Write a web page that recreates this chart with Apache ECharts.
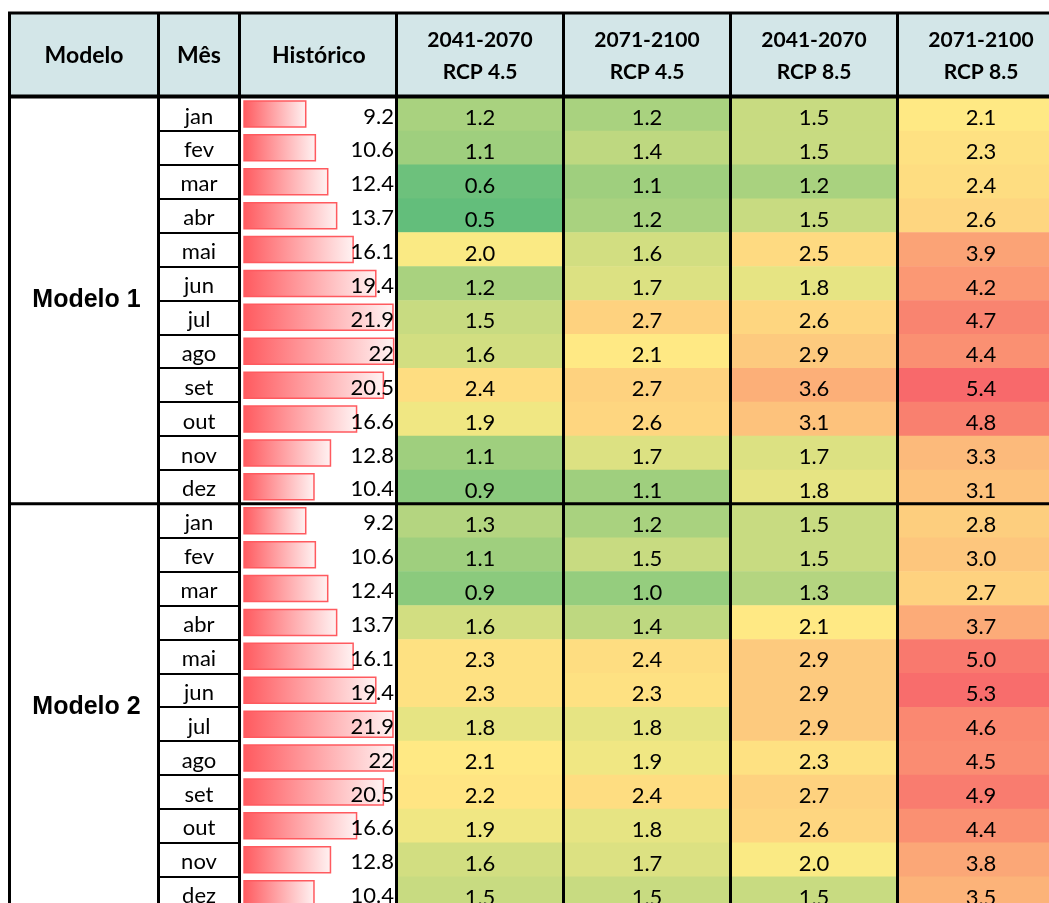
<!DOCTYPE html>
<html>
<head>
<meta charset="utf-8">
<script src="https://cdn.jsdelivr.net/npm/echarts@6/dist/echarts.min.js"></script>
<style>
  html, body { margin: 0; padding: 0; background: #fff; }
  #chart { width: 1049px; height: 903px; }
</style>
</head>
<body>
<div id="chart"></div>
<script>
// dados
const modelos = ['Modelo 1', 'Modelo 2']
const meses = ['jan', 'fev', 'mar', 'abr', 'mai', 'jun', 'jul', 'ago', 'set', 'out', 'nov', 'dez']
const cenarios = ['2041-2070\nRCP 4.5', '2071-2100\nRCP 4.5', '2041-2070\nRCP 8.5', '2071-2100\nRCP 8.5']
const cabecalho = ['Modelo', 'Mês', 'Histórico']

const historico = [9.2, 10.6, 12.4, 13.7, 16.1, 19.4, 21.9, 22, 20.5, 16.6, 12.8, 10.4]

const m1_45_2041 = [1.2, 1.1, 0.6, 0.5, 2.0, 1.2, 1.5, 1.6, 2.4, 1.9, 1.1, 0.9]
const m1_45_2071 = [1.2, 1.4, 1.1, 1.2, 1.6, 1.7, 2.7, 2.1, 2.7, 2.6, 1.7, 1.1]
const m1_85_2041 = [1.5, 1.5, 1.2, 1.5, 2.5, 1.8, 2.6, 2.9, 3.6, 3.1, 1.7, 1.8]
const m1_85_2071 = [2.1, 2.3, 2.4, 2.6, 3.9, 4.2, 4.7, 4.4, 5.4, 4.8, 3.3, 3.1]

const m2_45_2041 = [1.3, 1.1, 0.9, 1.6, 2.3, 2.3, 1.8, 2.1, 2.2, 1.9, 1.6, 1.5]
const m2_45_2071 = [1.2, 1.5, 1.0, 1.4, 2.4, 2.3, 1.8, 1.9, 2.4, 1.8, 1.7, 1.5]
const m2_85_2041 = [1.5, 1.5, 1.3, 2.1, 2.9, 2.9, 2.9, 2.3, 2.7, 2.6, 2.0, 1.5]
const m2_85_2071 = [2.8, 3.0, 2.7, 3.7, 5.0, 5.3, 4.6, 4.5, 4.9, 4.4, 3.8, 3.5]

const tabela = [
    [m1_45_2041, m1_45_2071, m1_85_2041, m1_85_2071],
    [m2_45_2041, m2_45_2071, m2_85_2041, m2_85_2071]
]

// layout
const TOPO = 13          // topo do cabeçalho
const TOPO_DADOS = 97    // início das linhas
const ALT_LINHA = 33.9
const N_LINHAS = modelos.length * meses.length
const ALT_GRID = ALT_LINHA * N_LINHAS
const COL_HEAT = 167
const bordas = [9.5, 158.5, 239.5, 396.5, 396.5 + COL_HEAT, 396.5 + 2 * COL_HEAT, 396.5 + 3 * COL_HEAT]
const FONTE = 'Lato'
const DESCE = 4   // texto das células fica um pouco abaixo do centro (como no Excel)

const linhas = []
modelos.forEach(m => meses.forEach(mm => linhas.push(m + '|' + mm)))

// dados do heatmap
const heatData = []
tabela.forEach((cols, m) => {
    cols.forEach((col, c) => {
        col.forEach((v, j) => heatData.push([c, m * 12 + j, v]))
    })
})

// escala de 3 cores tipo Excel (mín, percentil 50, máx)
const todos = heatData.map(d => d[2]).sort((a, b) => a - b)
const vMin = todos[0]
const vMax = todos[todos.length - 1]
const meio = todos.length / 2
const vMed = todos.length % 2 ? todos[Math.floor(meio)] : (todos[meio - 1] + todos[meio]) / 2

function hex2rgb(h) {
    return [parseInt(h.slice(1, 3), 16), parseInt(h.slice(3, 5), 16), parseInt(h.slice(5, 7), 16)]
}
function mistura(a, b, t) {
    const ca = hex2rgb(a), cb = hex2rgb(b)
    const c = ca.map((x, i) => Math.round(x + (cb[i] - x) * t))
    return 'rgb(' + c.join(',') + ')'
}
const VERDE = '#63BE7B', AMARELO = '#FFEB84', VERMELHO = '#F8696B'
const paradas = []
const N_PARADAS = 98
for (let i = 0; i <= N_PARADAS; i++) {
    const v = vMin + (vMax - vMin) * i / N_PARADAS
    if (v <= vMed) paradas.push(mistura(VERDE, AMARELO, (v - vMin) / (vMed - vMin)))
    else paradas.push(mistura(AMARELO, VERMELHO, (v - vMed) / (vMax - vMed)))
}

const histData = linhas.map((k, i) => historico[i % 12])

const chart = echarts.init(document.getElementById('chart'))

function gridCol(left, width) {
    return { left: left, width: width, top: TOPO_DADOS, height: ALT_GRID, outerBoundsMode: 'none' }
}
const nomeHeader = {
    fontFamily: FONTE, fontWeight: 'bold', fontSize: 23, color: '#000',
    verticalAlign: 'middle', align: 'center'
}
const eixoVazio = { axisLine: { show: false }, axisTick: { show: false }, splitLine: { show: false } }

// texto dentro da célula, alinhado a 'center' ou 'right'
function textoCelula(alinha, fmt) {
    return (params, api) => {
        const p = api.coord([0, api.value(1)])
        const cs = params.coordSys
        return {
            type: 'text',
            style: {
                text: fmt(api.value(0), api.value(1)),
                x: alinha === 'right' ? cs.x + cs.width - 0.5 : cs.x + cs.width / 2,
                y: p[1] + 2.5,
                align: alinha, verticalAlign: 'middle',
                fill: '#000', fontFamily: FONTE, fontSize: 22
            }
        }
    }
}

const linhasTabela = []
bordas.forEach(x => {
    linhasTabela.push({ type: 'line', shape: { x1: x, y1: TOPO, x2: x, y2: TOPO_DADOS + ALT_GRID }, style: { stroke: '#000', lineWidth: 3 }, z: 100 })
})
linhasTabela.push({ type: 'line', shape: { x1: bordas[0] - 1.5, y1: TOPO, x2: 1049, y2: TOPO }, style: { stroke: '#000', lineWidth: 3 }, z: 100 })
linhasTabela.push({ type: 'line', shape: { x1: bordas[0] - 1.5, y1: TOPO_DADOS - 0.5, x2: 1049, y2: TOPO_DADOS - 0.5 }, style: { stroke: '#000', lineWidth: 4 }, z: 100 })
linhasTabela.push({ type: 'line', shape: { x1: bordas[0] - 1.5, y1: TOPO_DADOS + 12 * ALT_LINHA, x2: 1049, y2: TOPO_DADOS + 12 * ALT_LINHA }, style: { stroke: '#000', lineWidth: 3 }, z: 100 })

const option = {
    animation: false,
    backgroundColor: '#fff',
    textStyle: { fontFamily: FONTE },
    grid: [
        gridCol(bordas[0], bordas[1] - bordas[0]),
        gridCol(bordas[1], bordas[2] - bordas[1]),
        gridCol(243.3, 151.1),
        gridCol(bordas[3], COL_HEAT * 4)
    ],
    xAxis: [
        { gridIndex: 0, type: 'category', data: [''], position: 'top', name: cabecalho[0], nameLocation: 'middle', nameGap: 41, nameTextStyle: nomeHeader, axisLabel: { show: false }, ...eixoVazio },
        { gridIndex: 1, type: 'category', data: [''], position: 'top', name: cabecalho[1], nameLocation: 'middle', nameGap: 41, nameTextStyle: nomeHeader, axisLabel: { show: false }, ...eixoVazio },
        { gridIndex: 2, type: 'value', min: 0, max: 22, position: 'top', name: cabecalho[2], nameLocation: 'middle', nameGap: 41, nameTextStyle: nomeHeader, axisLabel: { show: false }, ...eixoVazio },
        {
            gridIndex: 3, type: 'category', data: cenarios, position: 'top', ...eixoVazio,
            axisLabel: {
                interval: 0, margin: 41, verticalAlign: 'middle', lineHeight: 32,
                fontFamily: FONTE, fontWeight: 'bold', fontSize: 21, color: '#000'
            }
        }
    ],
    yAxis: [
        {
            gridIndex: 0, type: 'category', data: modelos, inverse: true, ...eixoVazio,
            axisLabel: { interval: 0, margin: -77, align: 'center', fontFamily: 'Liberation Sans', fontWeight: 'bold', fontSize: 25, color: '#000' }
        },
        {
            gridIndex: 1, type: 'category', data: linhas, inverse: true,
            axisLine: { show: false }, axisTick: { show: false, interval: 0 },
            splitLine: { show: true, interval: 0, lineStyle: { color: '#000', width: 2 } },
            axisLabel: { show: false }
        },
        { gridIndex: 2, type: 'category', data: linhas, inverse: true, axisLabel: { show: false }, ...eixoVazio },
        { gridIndex: 3, type: 'category', data: linhas, inverse: true, axisLabel: { show: false }, ...eixoVazio }
    ],
    visualMap: {
        type: 'continuous', show: false, seriesIndex: 2, dimension: 2,
        min: vMin, max: vMax, inRange: { color: paradas }
    },
    series: [
        {
            type: 'bar', xAxisIndex: 2, yAxisIndex: 2, data: histData, barWidth: 27.5,
            itemStyle: {
                color: new echarts.graphic.LinearGradient(0, 0, 1, 0, [
                    { offset: 0, color: '#FF5A5F' },
                    { offset: 1, color: '#FFF3F3' }
                ]),
                borderColor: '#FF5A5F', borderWidth: 1.5
            },
            silent: true
        },
        {
            type: 'custom', xAxisIndex: 2, yAxisIndex: 2, z: 5,
            data: histData.map((v, i) => [v, i]),
            renderItem: textoCelula('right', v => String(v))
        },
        {
            type: 'heatmap', xAxisIndex: 3, yAxisIndex: 3, data: heatData,
            itemStyle: { borderWidth: 0 },
            label: {
                show: true, color: '#000', fontFamily: FONTE, fontSize: 22,
                offset: [0, DESCE],
                formatter: p => p.value[2].toFixed(1)
            },
            emphasis: { disabled: true }
        },
        {
            // nomes dos meses
            type: 'custom', xAxisIndex: 1, yAxisIndex: 1, z: 5,
            data: linhas.map((k, i) => [0, i]),
            renderItem: textoCelula('center', (v, i) => linhas[i].split('|')[1])
        }
    ],
    graphic: [
        {
            type: 'rect', z: -1,
            shape: { x: bordas[0], y: TOPO, width: 1049 - bordas[0], height: TOPO_DADOS - TOPO },
            style: { fill: '#D3E6E8' }
        },
        ...linhasTabela
    ]
}

chart.setOption(option)
</script>
</body>
</html>
